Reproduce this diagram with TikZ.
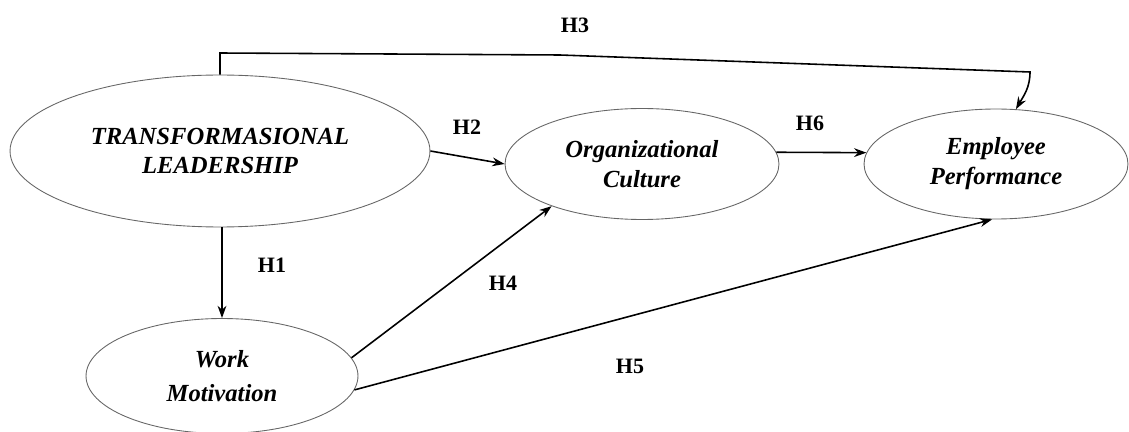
\documentclass[tikz,border=0pt]{standalone}
\usepackage{fontspec}
\setmainfont{Liberation Serif}
\usetikzlibrary{shapes,arrows.meta}

\begin{document}
\begin{tikzpicture}[x=0.02cm,y=-0.02cm,
  construct/.style={ellipse, draw=black!60, line width=0.5pt, align=center,
    font=\fontsize{14}{17}\selectfont\bfseries\itshape, inner sep=0pt},
  hypo/.style={font=\fontsize{12.5}{14}\selectfont\bfseries},
  path/.style={-{Stealth[length=7pt,width=5pt]}, line width=0.9pt}]
\useasboundingbox (0,0) rectangle (1129,432);
% constructs
\node[construct, minimum width=8.4cm, minimum height=3.04cm] (tl) at (220,151) {TRANSFORMASIONAL\\LEADERSHIP};
\node[construct, minimum width=5.48cm, minimum height=2.22cm] (oc) at (642,164) {Organizational\\Culture};
\node[construct, minimum width=5.28cm, minimum height=2.2cm] (ep) at (996,164) {Employee\\Performance};
\node[construct, minimum width=5.44cm, minimum height=2.3cm, font=\fontsize{14}{19}\selectfont\bfseries\itshape] (wm) at (222,376) {Work\\Motivation};
% H3 route
\coordinate (h3a) at (220,53);
\coordinate (h3b) at (560,55);
\coordinate (h3c) at (1030,72);
% paths
\draw[path] (tl.south -| wm.north) -- (wm.north);
\draw[path] (tl.east) -- (oc.west);
\draw[path] (tl.north) -- (h3a) -- (h3b) -- (h3c) to[out=-90,in=60] (ep.70);
\draw[path] (oc.5) -- (ep.175);
\draw[path] (wm.8) -- (oc.205);
\draw[path] (wm.354) -- (ep.266);
% labels
\node[hypo] (h1) at (272,265) {H1};
\node[hypo] (h2) at (467,127) {H2};
\node[hypo] (h3) at (575,25) {H3};
\node[hypo] (h4) at (503,283) {H4};
\node[hypo] (h5) at (630,366) {H5};
\node[hypo] (h6) at (810,123) {H6};
\end{tikzpicture}
\end{document}
